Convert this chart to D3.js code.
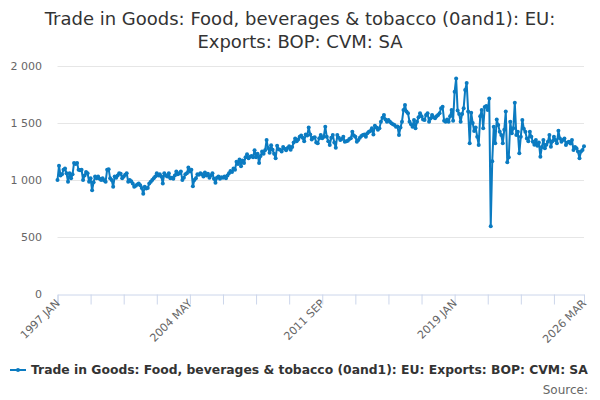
<!doctype html>
<html>
<head>
<meta charset="utf-8">
<title>Trade in Goods: Food, beverages & tobacco</title>
<script src="https://cdnjs.cloudflare.com/ajax/libs/d3/7.8.5/d3.min.js"></script>
<style>
  body { margin: 0; background: #fff; font-family: "DejaVu Sans", sans-serif; }
  svg { display: block; }
</style>
</head>
<body>
<div id="chart"></div>
<script>
// monthly values, 1997 JAN .. 2026 MAR
const startYear = 1997;
const monthNames = ["JAN","FEB","MAR","APR","MAY","JUN","JUL","AUG","SEP","OCT","NOV","DEC"];
const values = [
  1000, 1125, 1040, 1050, 1090, 1100, 1060, 985, 1060, 1015, 1050, 1150, // 1997
  1140, 1150, 1090, 1085, 1090, 1000, 1040, 1070, 1060, 985, 1015, 910,  // 1998
  980, 1030, 1015, 1030, 1010, 1000, 1015, 995, 985, 1090, 1095, 1015,   // 1999
  1000, 940, 1030, 1020, 1040, 1060, 1055, 1015, 1030, 1045, 1060, 985,  // 2000
  1000, 990, 970, 940, 950, 960, 970, 955, 930, 880, 940, 925,           // 2001
  930, 970, 985, 1000, 1015, 1030, 1060, 1040, 1050, 1030, 970, 1060,    // 2002
  1040, 1030, 1060, 1015, 1020, 1010, 1040, 1075, 1050, 1060, 1075, 1000, // 2003
  1020, 1050, 1060, 1110, 1075, 1090, 945, 1000, 1015, 1050, 1045, 1060, // 2004
  1050, 1030, 1065, 1040, 1055, 1020, 1040, 1060, 1010, 975, 1020, 1030, // 2005
  1010, 1025, 1020, 1030, 1015, 1040, 1060, 1080, 1070, 1100, 1090, 1160, // 2006
  1140, 1180, 1120, 1170, 1150, 1200, 1225, 1190, 1205, 1210, 1200, 1260, // 2007
  1200, 1230, 1150, 1210, 1250, 1230, 1260, 1350, 1280, 1240, 1305, 1265, // 2008
  1230, 1190, 1300, 1270, 1265, 1250, 1290, 1275, 1260, 1280, 1295, 1265, // 2009
  1290, 1330, 1365, 1340, 1355, 1380, 1390, 1370, 1340, 1400, 1390, 1460, // 2010
  1400, 1355, 1370, 1375, 1330, 1322, 1366, 1395, 1366, 1380, 1468, 1380, // 2011
  1340, 1307, 1370, 1395, 1330, 1283, 1395, 1370, 1350, 1360, 1380, 1336, // 2012
  1340, 1345, 1360, 1366, 1424, 1390, 1380, 1336, 1350, 1370, 1385, 1395, // 2013
  1400, 1380, 1410, 1424, 1430, 1453, 1400, 1476, 1460, 1440, 1453, 1510, // 2014
  1547, 1570, 1530, 1512, 1526, 1510, 1497, 1490, 1482, 1468, 1470, 1395, // 2015
  1460, 1512, 1614, 1658, 1600, 1585, 1512, 1490, 1468, 1526, 1453, 1512, // 2016
  1550, 1585, 1560, 1530, 1526, 1570, 1585, 1512, 1540, 1570, 1550, 1541, // 2017
  1560, 1570, 1585, 1629, 1643, 1520, 1512, 1530, 1512, 1560, 1614, 1520, // 2018
  1775, 1890, 1610, 1580, 1510, 1580, 1630, 1790, 1850, 1600, 1322, 1590, // 2019
  1500, 1430, 1460, 1380, 1307, 1560, 1614, 1453, 1640, 1650, 1614, 1716, // 2020
  595, 1165, 1468, 1322, 1530, 1482, 1424, 1395, 1322, 1440, 1600, 1155,  // 2021
  1200, 1511, 1409, 1453, 1678, 1395, 1424, 1234, 1380, 1526, 1450, 1424, // 2022
  1365, 1340, 1424, 1380, 1336, 1310, 1350, 1300, 1330, 1205, 1290, 1350, // 2023
  1278, 1310, 1336, 1395, 1292, 1340, 1380, 1350, 1322, 1431, 1365, 1336, // 2024
  1350, 1365, 1307, 1330, 1336, 1320, 1350, 1263, 1290, 1278, 1250, 1190, // 2025
  1250, 1263, 1295                                                       // 2026
];
const yTicks = [0, 500, 1000, 1500, 2000];
const xTickLabels = ["1997 JAN", "2004 MAY", "2011 SEP", "2019 JAN", "2026 MAR"];
const seriesName = "Trade in Goods: Food, beverages & tobacco (0and1): EU: Exports: BOP: CVM: SA";
const titleLines = ["Trade in Goods: Food, beverages & tobacco (0and1): EU:", "Exports: BOP: CVM: SA"];

const categories = values.map((v, i) => (startYear + Math.floor(i / 12)) + " " + monthNames[i % 12]);
const data = values.map((v, i) => ({ cat: categories[i], i: i, v: v }));

const W = 600, H = 400;
const color = "#0b7bc1";

const svg = d3.select("#chart").append("svg").attr("width", W).attr("height", H);

const x = d3.scaleLinear().domain([0, values.length - 1]).range([57.5, 584]);
const y = d3.scaleLinear().domain([0, 2000]).range([294, 66]);

// title
svg.append("text")
  .attr("x", W / 2).attr("y", 25)
  .attr("text-anchor", "middle")
  .style("font-size", "18px").style("fill", "#333")
  .selectAll("tspan").data(titleLines).join("tspan")
  .attr("x", W / 2).attr("dy", (d, i) => i ? 23 : 0)
  .text(d => d);

// grid + y labels
const fmt = n => d3.format(",")(n).replace(/,/g, " ");
svg.append("g").selectAll("line").data(yTicks.filter(t => t > 0)).join("line")
  .attr("x1", 57.5).attr("x2", 584)
  .attr("y1", d => Math.round(y(d)) + 0.5).attr("y2", d => Math.round(y(d)) + 0.5)
  .attr("stroke", "#e6e6e6");
svg.append("g").selectAll("text").data(yTicks).join("text")
  .attr("x", 42).attr("y", d => y(d) + 4)
  .attr("text-anchor", "end")
  .style("font-size", "11px").style("fill", "#666")
  .text(fmt);

// x axis
const tickIdx = d3.range(0, values.length - 1, 22).concat([values.length - 1]);
const xAxis = d3.axisBottom(x).tickValues(tickIdx).tickSize(10).tickFormat("");
const gx = svg.append("g").attr("transform", "translate(0,294.5)").call(xAxis);
gx.select(".domain").attr("stroke", "#ccd6eb");
gx.selectAll(".tick line").attr("stroke", "#ccd6eb");

const labelIdx = xTickLabels.map(l => categories.indexOf(l));
svg.append("g").selectAll("text").data(labelIdx).join("text")
  .attr("transform", d => "translate(" + (x(d) + 3) + ",304) rotate(-45)")
  .attr("text-anchor", "end")
  .style("font-size", "11px").style("fill", "#666")
  .text(d => categories[d]);

// series
const line = d3.line().x(d => x(d.i)).y(d => y(d.v));
svg.append("path").datum(data)
  .attr("d", line)
  .attr("fill", "none").attr("stroke", color)
  .attr("stroke-width", 2).attr("stroke-linejoin", "round");
svg.append("g").selectAll("circle").data(data).join("circle")
  .attr("cx", d => x(d.i)).attr("cy", d => y(d.v))
  .attr("r", 2).attr("fill", color);

// legend
const lg = svg.append("g").attr("transform", "translate(10,374)");
lg.append("line").attr("x1", 0).attr("x2", 16).attr("y1", -4).attr("y2", -4)
  .attr("stroke", color).attr("stroke-width", 2);
lg.append("circle").attr("cx", 8).attr("cy", -4).attr("r", 2).attr("fill", color);
const lt = lg.append("text").attr("x", 21).attr("y", 0)
  .style("font-size", "13px").style("font-weight", "bold").style("fill", "#333")
  .text(seriesName);
// shrink the legend text so it ends where the reference's does
const maxW = 557;
const tw = lt.node().getComputedTextLength();
if (tw > maxW) lt.style("font-size", (13 * maxW / tw).toFixed(2) + "px");

svg.append("text").attr("x", 588).attr("y", 394)
  .attr("text-anchor", "end")
  .style("font-size", "12px").style("fill", "#666")
  .text("Source:");
</script>
</body>
</html>
